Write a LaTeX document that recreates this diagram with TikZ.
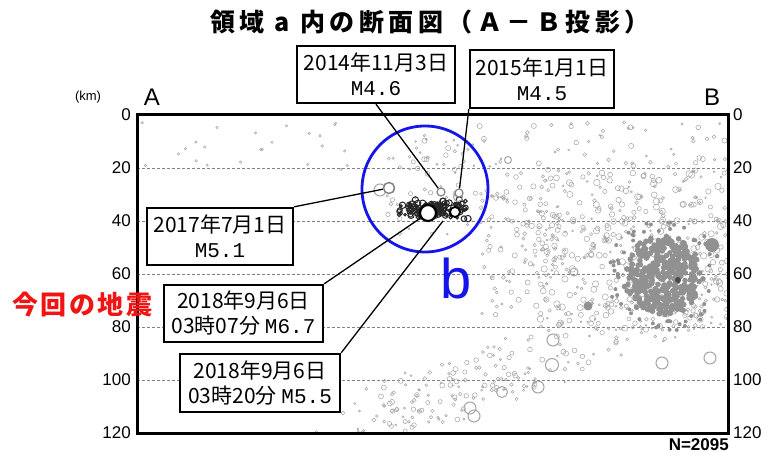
\documentclass[tikz,border=0pt]{standalone}
\usepackage{fontspec}
\setmainfont{Liberation Sans}
\newfontfamily\jp{Noto Sans CJK JP}
\newfontfamily\mfont{Liberation Mono}
\definecolor{dotgray}{RGB}{165,165,165}
\definecolor{blobgray}{RGB}{145,145,145}
\definecolor{gridgray}{RGB}{130,130,130}
\definecolor{bblue}{RGB}{20,20,235}
\definecolor{kred}{RGB}{240,20,20}
\tikzset{
  datebox/.style={draw, line width=2.4pt, fill=white, align=center, inner sep=0pt,
    font=\jp\fontsize{21}{25}\selectfont},
  leader/.style={line width=1.3pt},
  gridline/.style={gridgray, line width=0.9pt, dash pattern=on 3pt off 2pt},
  axlab/.style={font=\fontsize{17}{17}\selectfont, inner sep=0pt},
  ev/.style={circle, draw, fill=white, inner sep=0pt, line width=1.8pt},
  sdot/.style={dotgray, line width=0.5pt},
}
\begin{document}
\begin{tikzpicture}[x=1pt, y=-1pt]
\useasboundingbox (0,0) rectangle (769,457);
\fill[white] (0,0) rectangle (769,457);

% title
\node[font=\jp\bfseries\addfontfeature{LetterSpace=18}\fontsize{25}{25}\selectfont, inner sep=0pt] (title) at (430,22) {領域 a 内の断面図（Ａ－Ｂ投影）};

% labels above axes
\node[font=\fontsize{13}{13}\selectfont, inner sep=0pt] (km) at (88,97) {(km)};
\node[font=\fontsize{24}{24}\selectfont, inner sep=0pt] (labA) at (152,97) {A};
\node[font=\fontsize{24}{24}\selectfont, inner sep=0pt] (labB) at (712,97) {B};

% grid lines
\foreach \d in {20,40,60,80,100}{
  \draw[gridline] (137,{115+\d*2.65}) -- (728,{115+\d*2.65});
}

% scatter
\begin{scope}
\clip (137,115) rectangle (728,433);
\pgfmathsetseed{2095}
% shallow sparse points
\foreach \i in {1,...,30}{
  \pgfmathsetmacro\px{140+rnd*330}
  \pgfmathsetmacro\py{120+rnd*50}
  \draw[sdot] (\px,\py) circle (1.2);
}
% sparse upper right
\foreach \i in {1,...,70}{
  \pgfmathsetmacro\px{470+rnd*258}
  \pgfmathsetmacro\py{122+rnd*60}
  \pgfmathsetmacro\pr{0.8+rnd*1.8}
  \draw[sdot] (\px,\py) circle (\pr);
}
% broad scatter right middle
\foreach \i in {1,...,380}{
  \pgfmathsetmacro\px{540+rnd*188}
  \pgfmathsetmacro\py{170+rnd*160}
  \pgfmathsetmacro\pr{0.8+rnd*2.5}
  \draw[sdot] (\px,\py) circle (\pr);
}
\foreach \i in {1,...,120}{
  \pgfmathsetmacro\px{480+rnd*80}
  \pgfmathsetmacro\py{185+rnd*130}
  \pgfmathsetmacro\pr{0.8+rnd*2}
  \draw[sdot] (\px,\py) circle (\pr);
}
% band from lower left to upper right
\foreach \i in {1,...,260}{
  \pgfmathsetmacro\t{rnd}
  \pgfmathsetmacro\px{330+\t*390+rand*25}
  \pgfmathsetmacro\py{436-\t*150+rand*28}
  \pgfmathsetmacro\pr{0.8+rnd*1.8}
  \draw[sdot] (\px,\py) circle (\pr);
}
% main blob
\foreach \i in {1,...,420}{
  \pgfmathsetmacro\a{rnd*360}
  \pgfmathsetmacro\r{sqrt(rnd)}
  \pgfmathsetmacro\px{664+36*\r*cos(\a)+rand*5}
  \pgfmathsetmacro\py{276+38*\r*sin(\a)+rand*5}
  \fill[blobgray] (\px,\py) circle (2.8);
}
\foreach \i in {1,...,60}{
  \pgfmathsetmacro\a{rnd*360}
  \pgfmathsetmacro\r{45+rnd*12}
  \pgfmathsetmacro\px{664+\r*cos(\a)}
  \pgfmathsetmacro\py{276+\r*sin(\a)}
  \fill[blobgray] (\px,\py) circle (2);
}
\fill[blobgray] (712,245) circle (7);
\fill[blobgray] (588,306) circle (4.5);
\fill[black!70] (678,280) circle (3);
% gray points in circle region
\foreach \i in {1,...,60}{
  \pgfmathsetmacro\px{385+rnd*95}
  \pgfmathsetmacro\py{140+rnd*95}
  \pgfmathsetmacro\pr{0.8+rnd*1.8}
  \draw[sdot] (\px,\py) circle (\pr);
}
% dark cluster
\foreach \i in {1,...,170}{
  \pgfmathsetmacro\px{434+20*(rand+rand)}
  \pgfmathsetmacro\py{209+5*(rand+rand)}
  \pgfmathsetmacro\pr{0.8+rnd*2.5}
  \draw[black!85, line width=1pt] (\px,\py) circle (\pr);
}
% larger open circles
\foreach \cx/\cy/\cr in {553/340/6, 552/365/6.5, 662/363/6, 710/358/6, 538/387/6, 502/392/5.5, 470/408/6, 474/416/6, 380/190/6, 458/197/4.5, 508/160/3.5, 574/272/4}{
  \draw[dotgray, line width=1pt] (\cx,\cy) circle (\cr);
}
\end{scope}

% frame
\draw[line width=3pt] (137,115) rectangle (728,433);

% axis labels
\foreach \d in {0,20,40,60,80,100,120}{
  \node[axlab, anchor=east] (l\d) at (131,{115+\d*2.65}) {\d};
  \node[axlab, anchor=west] (r\d) at (733,{115+\d*2.65}) {\d};
}
\node[font=\bfseries\fontsize{17}{17}\selectfont, inner sep=0pt, anchor=east] (nlab) at (729,445) {N=2095};

% blue circle and b
\draw[bblue, line width=2.8pt] (425,189) circle (63);
\node[bblue, font=\fontsize{56}{56}\selectfont, inner sep=0pt] (labb) at (456,278) {b};

% red label
\node[kred, font=\jp\bfseries\addfontfeature{LetterSpace=10}\fontsize{26}{26}\selectfont, inner sep=0pt, anchor=west] (konkai) at (12,305) {今回の地震};

% event circles
\node[ev, draw=dotgray!80!black, minimum size=11pt, line width=1.5pt] (ev17) at (389,188) {};
\node[ev, draw=dotgray!80!black, minimum size=8pt, line width=1.2pt] (ev46) at (441,192) {};
\node[ev, draw=dotgray!80!black, minimum size=8pt, line width=1.2pt] (ev45) at (459,193) {};
\node[ev, minimum size=10pt] (ev55) at (455,212) {};
\node[ev, minimum size=16pt, line width=2.2pt] (ev67) at (428,213) {};
\coordinate (ev55b) at (443,221);

% boxes
\node[datebox, minimum width=158pt, minimum height=57pt] (b14) at (376,74.5) {2014年11月3日\\{\mfont M4.6}};
\node[datebox, minimum width=144pt, minimum height=58pt] (b15) at (542,79) {2015年1月1日\\{\mfont M4.5}};
\node[datebox, minimum width=146pt, minimum height=57pt] (b17) at (220,236.5) {2017年7月1日\\{\mfont M5.1}};
\node[datebox, minimum width=159pt, minimum height=57pt] (b18a) at (243.5,313.5) {2018年9月6日\\03時07分\ {\mfont M6.7}};
\node[datebox, minimum width=160pt, minimum height=58pt] (b18b) at (260,383) {2018年9月6日\\03時20分\ {\mfont M5.5}};

% leaders
\draw[leader] (b14.south) -- (ev46);
\draw[leader] (b15.south west) -- (ev45);
\draw[leader] (b17.north east) -- (ev17);
\draw[leader] (b18a.north east) -- (ev67);
\draw[leader] (b18b.north east) -- (ev55b);
\end{tikzpicture}
\end{document}
